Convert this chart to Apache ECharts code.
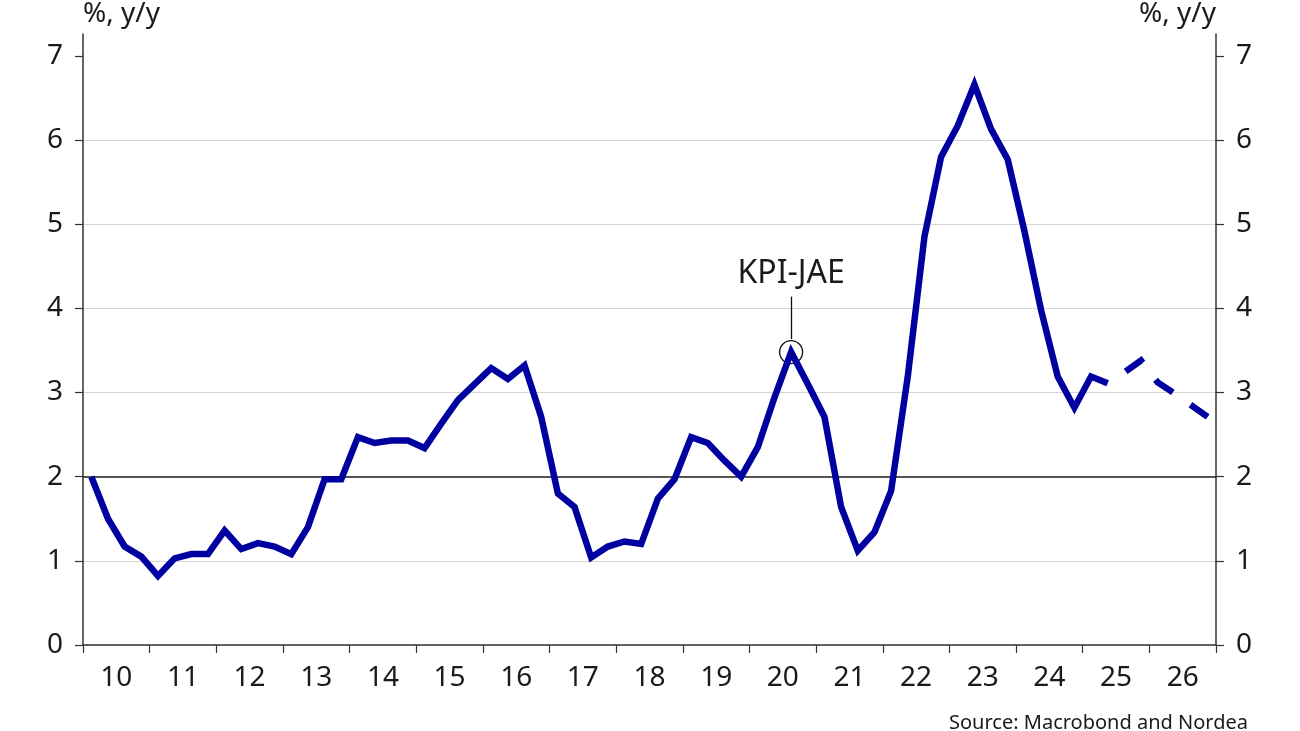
<!DOCTYPE html>
<html><head><meta charset="utf-8">
<script src="https://cdn.jsdelivr.net/npm/echarts@6/dist/echarts.min.js"></script>
<style>html,body{margin:0;padding:0;background:#fff}#c{width:1300px;height:731px}</style>
</head><body><div id="c"></div>
<script>
// ---- data ----
const startYear = 2010;
const endYear = 2027;
const yearLabels = ['10','11','12','13','14','15','16','17','18','19','20','21','22','23','24','25','26'];
const yTicks = [0, 1, 2, 3, 4, 5, 6, 7];
// KPI-JAE, % y/y, quarterly 2010Q1 – 2025Q2 (outcome)
const actualValues = [
  2.00, 1.50, 1.17, 1.05,
  0.82, 1.03, 1.08, 1.08,
  1.36, 1.14, 1.21, 1.17,
  1.08, 1.40, 1.97, 1.97,
  2.47, 2.40, 2.43, 2.43,
  2.34, 2.63, 2.91, 3.10,
  3.29, 3.16, 3.32, 2.71,
  1.80, 1.64, 1.04, 1.17,
  1.23, 1.20, 1.74, 1.97,
  2.47, 2.40, 2.19, 2.00,
  2.35, 2.94, 3.48, 3.10,
  2.71, 1.64, 1.12, 1.34,
  1.83, 3.19, 4.85, 5.80,
  6.17, 6.66, 6.13, 5.77,
  4.92, 3.98, 3.19, 2.82,
  3.19, 3.11
];
// forecast 2025Q2 – 2026Q4
const forecastValues = [3.11, 3.24, 3.38, 3.12, 2.99, 2.85, 2.71];
const forecastStartIndex = 61;
const annotationText = 'KPI-JAE';
const annotationIndex = 42; // 2020Q3
const sourceText = 'Source: Macrobond and Nordea';

// ---- build ----
const qx = i => startYear + (i + 0.5) / 4;
const actualData = actualValues.map((v, i) => [qx(i), v]);
const forecastData = forecastValues.map((v, i) => [qx(forecastStartIndex + i), v]);
const annX = qx(annotationIndex);
const annY = actualValues[annotationIndex];

const FONT = 'Noto Sans';
const TXT = '#1a1a1a';
const AX = '#333333';
const BLUE = '#0000a0';

const yAxisBase = (pos) => ({
  type: 'value', min: 0, max: 7.26, interval: 1, position: pos,
  axisLine: { show: true, lineStyle: { color: AX, width: 1.5 } },
  axisTick: { show: true, inside: false, length: 8, lineStyle: { color: AX, width: 1.2 }, customValues: yTicks },
  axisLabel: { customValues: yTicks, margin: 20, fontSize: 28, color: TXT, fontFamily: FONT },
  splitLine: { show: pos === 'left', showMaxLine: false, lineStyle: { color: '#d6d6d6', width: 1 } },
  name: '%, y/y', nameLocation: 'end', nameGap: 6,
  nameTextStyle: { align: pos === 'left' ? 'left' : 'right', verticalAlign: 'bottom', fontSize: 28, color: TXT, fontFamily: FONT, padding: 0 }
});

const chart = echarts.init(document.getElementById('c'), null, { renderer: 'canvas' });
chart.setOption({
  animation: false,
  backgroundColor: '#ffffff',
  title: {
    text: sourceText, right: 47, top: 708,
    textStyle: { fontSize: 20, fontWeight: 'normal', color: TXT, fontFamily: FONT }
  },
  grid: { left: 83, right: 84, top: 33, bottom: 86, containLabel: false },
  xAxis: {
    type: 'value', min: startYear, max: endYear, interval: 1,
    axisLine: { show: true, onZero: false, lineStyle: { color: AX, width: 1.5 } },
    axisTick: { show: true, length: 8, lineStyle: { color: AX, width: 1.2 } },
    axisLabel: {
      customValues: yearLabels.map((l, i) => startYear + i + 0.5),
      formatter: v => yearLabels[Math.floor(v) - startYear],
      margin: 19, fontSize: 28, color: TXT, fontFamily: FONT
    },
    splitLine: { show: false }
  },
  yAxis: [yAxisBase('left'), yAxisBase('right')],
  series: [
    {
      type: 'line', data: actualData, showSymbol: false, z: 5,
      lineStyle: { color: BLUE, width: 6.5, join: 'miter' },
      markLine: {
        silent: true, symbol: ['none', 'none'], label: { show: false }, z: 3,
        data: [
          { yAxis: 2, lineStyle: { color: '#222', width: 1.5, type: 'solid' } },
          [
            { coord: [annX, annY + 0.155], lineStyle: { color: '#111', width: 1.3, type: 'solid' } },
            { coord: [annX, 4.14] }
          ]
        ]
      },
      markPoint: {
        silent: true,
        data: [{
          coord: [annX, annY], symbol: 'circle', symbolSize: 23,
          itemStyle: { color: 'rgba(0,0,0,0)', borderColor: '#111', borderWidth: 1.3 },
          label: { show: true, formatter: annotationText, position: 'top', distance: 50, fontSize: 32, color: TXT, fontFamily: FONT }
        }]
      }
    },
    {
      type: 'line', data: forecastData, showSymbol: false, z: 5,
      lineStyle: { color: BLUE, width: 6.5, type: [21.5, 21.5], dashOffset: 21.5, cap: 'butt', join: 'miter' }
    }
  ]
});
</script>
</body></html>
